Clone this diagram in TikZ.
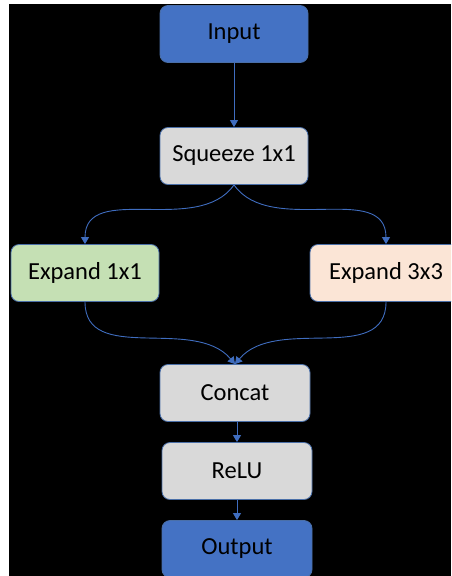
\documentclass[tikz,border=0pt]{standalone}
\usepackage{fontspec}
\setmainfont{Carlito}
\usetikzlibrary{arrows.meta}
\definecolor{blockblue}{HTML}{4472C4}
\definecolor{blockgray}{HTML}{D9D9D9}
\definecolor{blockgreen}{HTML}{C5E0B4}
\definecolor{blockpeach}{HTML}{FBE5D6}
\definecolor{edgeblue}{HTML}{3F6DBF}
\definecolor{outline}{HTML}{4A6FA8}
\tikzset{
  block/.style={draw=outline, line width=0.8pt, rounded corners=8pt,
    minimum width=148pt, minimum height=57pt, inner sep=0pt,
    font=\fontsize{24.5}{29}\selectfont, text=black},
  blueblock/.style={block, fill=blockblue},
  grayblock/.style={block, fill=blockgray},
  flow/.style={draw=edgeblue, line width=0.9pt, -{Triangle[length=7pt,width=8pt]}}
}
\begin{document}
\begin{tikzpicture}[x=1pt, y=-1pt]
  \useasboundingbox (0,0) rectangle (451,576);
  \fill[white] (0,0) rectangle (451,576);
  \fill[black] (9,4) rectangle (451,576);
  \begin{scope}
    \clip (9,4) rectangle (451,576);
    \node[blueblock] (in) at (234,34) {Input};
    \node[grayblock] (sq) at (234,156) {Squeeze 1x1};
    \node[block, fill=blockgreen] (e1) at (85,273) {Expand 1x1};
    \node[block, fill=blockpeach, minimum width=152pt] (e3) at (386,273) {Expand 3x3};
    \node[grayblock, minimum width=150pt] (cc) at (235,393) {Concat};
    \node[grayblock, minimum width=150pt] (re) at (237,471) {ReLU};
    \node[blueblock, minimum width=150pt] (out) at (237,549) {Output};

    \draw[flow] (in.south) -- (sq.north);
    \draw[flow] (sq.south) to[out=-125, in=90] (e1.north);
    \draw[flow] (sq.south) to[out=-55, in=90] (e3.north);
    \draw[flow] (e1.south) to[out=-90, in=130] (cc.north);
    \draw[flow] (e3.south) to[out=-90, in=50] (cc.north);
    \draw[flow] (cc.south -| re.north) -- (re.north);
    \draw[flow] (re.south) -- (out.north);
  \end{scope}
\end{tikzpicture}
\end{document}
